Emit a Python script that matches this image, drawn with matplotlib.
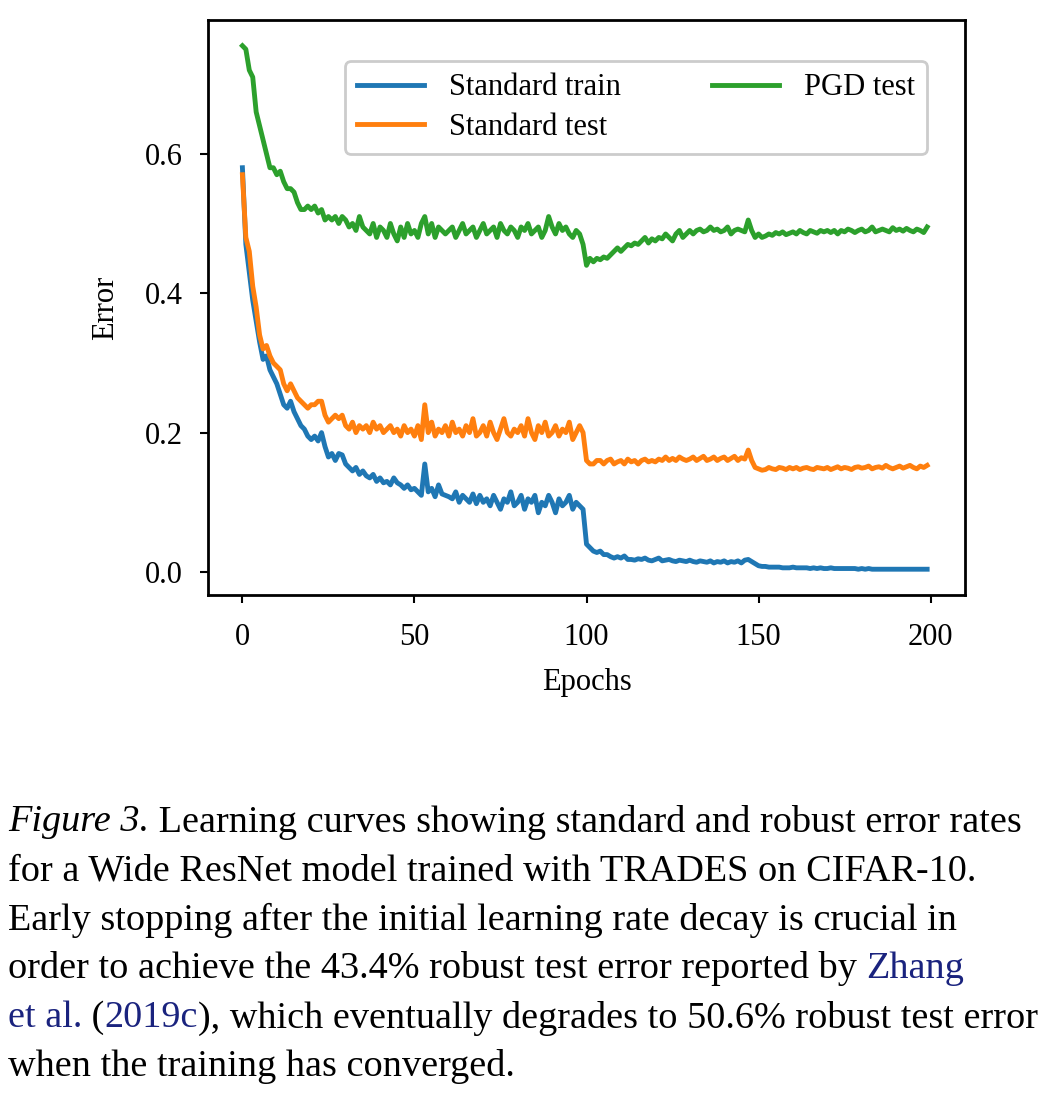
import matplotlib
matplotlib.use("Agg")
import matplotlib.pyplot as plt
import numpy as np

plt.rcParams['font.family'] = ['Liberation Serif', 'DejaVu Serif']
plt.rcParams['mathtext.fontset'] = 'stix'

train = [0.58,0.47,0.43,0.39,0.36,0.33,0.305,0.31,0.29,0.28,
         0.27,0.255,0.24,0.235,0.245,0.23,0.22,0.21,0.205,0.195,
         0.19,0.195,0.188,0.2,0.18,0.165,0.17,0.16,0.17,0.168,
         0.155,0.15,0.145,0.15,0.14,0.145,0.138,0.135,0.14,0.13,
         0.135,0.128,0.13,0.125,0.135,0.128,0.125,0.12,0.125,0.118,
         0.12,0.115,0.11,0.155,0.115,0.12,0.108,0.125,0.112,0.11,
         0.108,0.105,0.115,0.1,0.11,0.105,0.1,0.112,0.098,0.11,
         0.1,0.105,0.095,0.11,0.1,0.09,0.105,0.1,0.115,0.095,
         0.1,0.11,0.09,0.105,0.1,0.11,0.085,0.1,0.095,0.11,
         0.1,0.085,0.105,0.095,0.1,0.11,0.09,0.1,0.095,0.09,
         0.04,0.035,0.03,0.028,0.03,0.025,0.025,0.022,0.02,0.022,
         0.02,0.023,0.018,0.018,0.017,0.019,0.018,0.02,0.017,0.016,
         0.018,0.02,0.016,0.017,0.018,0.016,0.015,0.017,0.016,0.015,
         0.017,0.015,0.014,0.016,0.015,0.014,0.016,0.013,0.015,0.014,
         0.016,0.013,0.015,0.014,0.016,0.013,0.017,0.018,0.015,0.012,
         0.009,0.008,0.008,0.007,0.007,0.007,0.007,0.006,0.006,0.006,
         0.007,0.006,0.006,0.006,0.006,0.005,0.006,0.005,0.006,0.005,
         0.005,0.006,0.005,0.005,0.005,0.005,0.005,0.005,0.005,0.004,
         0.005,0.004,0.005,0.004,0.004,0.004,0.004,0.004,0.004,0.004,
         0.004,0.004,0.004,0.004,0.004,0.004,0.004,0.004,0.004,0.004]
test = [0.57,0.48,0.46,0.41,0.38,0.34,0.32,0.325,0.31,0.30,
        0.295,0.29,0.27,0.26,0.27,0.26,0.25,0.245,0.24,0.235,
        0.24,0.24,0.245,0.245,0.225,0.215,0.22,0.225,0.22,0.225,
        0.21,0.205,0.215,0.2,0.21,0.205,0.21,0.2,0.215,0.205,
        0.21,0.2,0.205,0.21,0.2,0.205,0.195,0.21,0.2,0.205,
        0.195,0.21,0.19,0.24,0.2,0.215,0.195,0.205,0.2,0.21,
        0.195,0.215,0.2,0.205,0.195,0.21,0.2,0.22,0.195,0.2,
        0.21,0.195,0.215,0.2,0.19,0.205,0.22,0.2,0.195,0.205,
        0.2,0.21,0.195,0.22,0.2,0.19,0.21,0.2,0.215,0.195,
        0.2,0.21,0.195,0.205,0.2,0.215,0.19,0.2,0.21,0.2,
        0.16,0.155,0.155,0.16,0.16,0.155,0.16,0.162,0.155,0.158,
        0.16,0.155,0.162,0.158,0.16,0.155,0.16,0.162,0.158,0.16,
        0.158,0.162,0.16,0.165,0.16,0.163,0.16,0.165,0.162,0.16,
        0.162,0.165,0.16,0.163,0.166,0.16,0.162,0.165,0.16,0.163,
        0.165,0.16,0.163,0.166,0.16,0.164,0.162,0.175,0.16,0.15,
        0.148,0.146,0.147,0.15,0.148,0.147,0.15,0.149,0.147,0.15,
        0.148,0.15,0.147,0.149,0.15,0.148,0.147,0.15,0.149,0.148,
        0.15,0.147,0.149,0.151,0.148,0.15,0.149,0.147,0.15,0.151,
        0.149,0.15,0.152,0.148,0.15,0.151,0.149,0.153,0.15,0.148,
        0.15,0.152,0.149,0.151,0.153,0.15,0.148,0.152,0.15,0.153]
pgd = [0.755,0.75,0.72,0.71,0.66,0.64,0.62,0.60,0.58,0.58,
       0.57,0.575,0.56,0.55,0.55,0.545,0.53,0.52,0.52,0.525,
       0.52,0.525,0.515,0.52,0.505,0.51,0.505,0.51,0.5,0.51,
       0.505,0.495,0.5,0.49,0.51,0.495,0.49,0.485,0.5,0.48,
       0.495,0.49,0.48,0.5,0.485,0.475,0.495,0.48,0.5,0.485,
       0.49,0.48,0.5,0.51,0.485,0.5,0.48,0.495,0.49,0.485,
       0.49,0.495,0.48,0.49,0.5,0.485,0.49,0.495,0.48,0.49,
       0.5,0.485,0.49,0.495,0.48,0.5,0.49,0.485,0.495,0.49,
       0.48,0.495,0.49,0.5,0.485,0.49,0.495,0.48,0.49,0.51,
       0.495,0.485,0.5,0.49,0.495,0.485,0.48,0.49,0.485,0.47,
       0.44,0.45,0.445,0.45,0.448,0.452,0.45,0.455,0.46,0.465,
       0.46,0.465,0.47,0.468,0.472,0.47,0.475,0.48,0.472,0.478,
       0.475,0.48,0.478,0.485,0.48,0.475,0.485,0.49,0.48,0.485,
       0.49,0.485,0.49,0.492,0.488,0.49,0.495,0.49,0.492,0.488,
       0.49,0.495,0.485,0.49,0.492,0.49,0.488,0.505,0.49,0.48,
       0.485,0.48,0.482,0.485,0.483,0.487,0.485,0.488,0.484,0.486,
       0.488,0.485,0.49,0.487,0.485,0.49,0.488,0.486,0.49,0.488,
       0.49,0.487,0.49,0.485,0.49,0.488,0.492,0.49,0.487,0.49,
       0.492,0.488,0.49,0.495,0.488,0.49,0.492,0.49,0.488,0.494,
       0.49,0.492,0.489,0.493,0.49,0.488,0.492,0.49,0.487,0.495]
epochs = np.arange(len(train))

fig = plt.figure(figsize=(10.58, 10.97), dpi=100)
ax = fig.add_axes([0.1966, 0.4576, 0.7155, 0.5242])
ax.plot(epochs, train, color='#1f77b4', lw=3.5, label='Standard train')
ax.plot(epochs, test, color='#ff7f0e', lw=3.5, label='Standard test')
ax.plot(epochs, pgd, color='#2ca02c', lw=3.5, label='PGD test')
ax.set_xlim(-10, 210)
ax.set_ylim(-0.033, 0.792)
ax.set_xticks([0, 50, 100, 150, 200])
ax.set_yticks([0.0, 0.2, 0.4, 0.6])
ax.set_yticklabels(['0.0', '0.2', '0.4', '0.6'])
ax.tick_params(labelsize=22, width=1.5, length=6)
ax.tick_params(axis='x', pad=14)
ax.tick_params(axis='y', pad=12)
for s in ax.spines.values():
    s.set_linewidth(2)
ax.set_xlabel('Epochs', fontsize=22, labelpad=12)
ax.set_ylabel('Error', fontsize=22, labelpad=18)
leg = ax.legend(ncol=2, fontsize=22, loc='upper right', bbox_to_anchor=(0.97, 0.955),
                handlelength=2.2, columnspacing=3.0, fancybox=True, framealpha=1,
                edgecolor='#cccccc', borderpad=0.4, labelspacing=0.35)
leg.get_frame().set_linewidth(2)

navy = '#1a237e'
lines = [
    [("Figure 3.", 'black', 'italic'), (" Learning curves showing standard and robust error rates", 'black', 'normal')],
    [("for a Wide ResNet model trained with TRADES on CIFAR-10.", 'black', 'normal')],
    [("Early stopping after the initial learning rate decay is crucial in", 'black', 'normal')],
    [("order to achieve the 43.4% robust test error reported by ", 'black', 'normal'), ("Zhang", navy, 'normal')],
    [("et al.", navy, 'normal'), (" (", 'black', 'normal'), ("2019c", navy, 'normal'),
     ("), which eventually degrades to 50.6% robust test error", 'black', 'normal')],
    [("when the training has converged.", 'black', 'normal')],
]
fig.canvas.draw()
r = fig.canvas.get_renderer()
y0 = 1 - 822 / 1097
dy = 49 / 1097
for i, segs in enumerate(lines):
    x = 8 / 1058
    for txt, c, st in segs:
        t = fig.text(x, y0 - i * dy, txt, color=c, style=st, fontsize=27.5, va='center', ha='left')
        bb = t.get_window_extent(r)
        x += bb.width / 1058
fig.savefig('out.png', dpi=100)
